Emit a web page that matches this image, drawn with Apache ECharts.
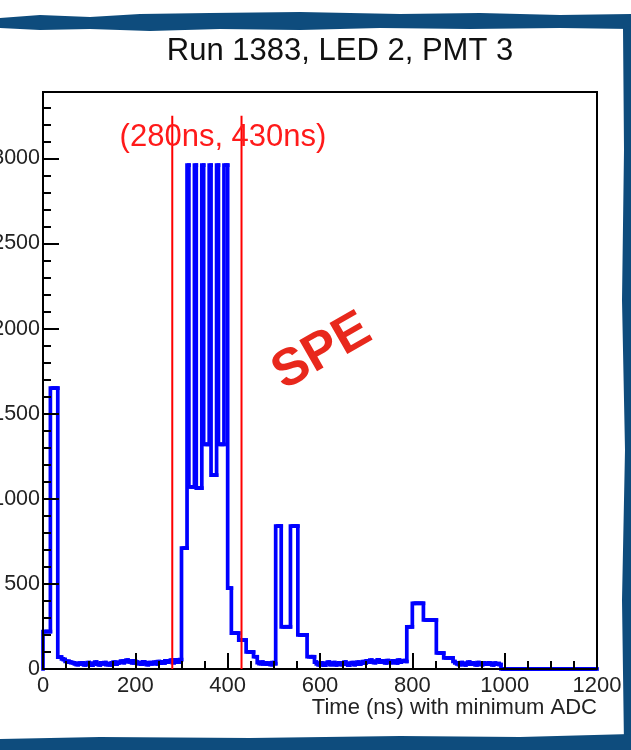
<!DOCTYPE html>
<html>
<head>
<meta charset="utf-8">
<script src="https://cdn.jsdelivr.net/npm/echarts@6/dist/echarts.min.js"></script>
<style>
  html, body { margin: 0; padding: 0; background: #ffffff; }
  #chart { width: 631px; height: 750px; }
</style>
</head>
<body>
<div id="chart"></div>
<script>
// Histogram of the time (ns) at which the minimum ADC sample occurs, 4 ns bins over 0-1200 ns
const binWidth = 4;
const counts = [
  // 0-80 ns
  220, 220, 220, 220, 1650, 1650, 1650, 1650, 70, 70, 60, 55, 45, 45, 40, 38, 36, 30, 26, 34,
  // 80-160 ns
  28, 36, 24, 30, 38, 26, 22, 34, 40, 28, 24, 36, 30, 38, 26, 32, 24, 36, 40, 28,
  // 160-240 ns
  34, 40, 46, 38, 48, 52, 42, 46, 36, 48, 40, 32, 38, 28, 42, 34, 26, 38, 30, 36,
  // 240-320 ns
  40, 30, 44, 34, 42, 36, 48, 40, 46, 52, 38, 54, 46, 40, 55, 710, 710, 710, 2960, 1070,
  // 320-400 ns
  1070, 1070, 2960, 1063, 1063, 1063, 2960, 1320, 1320, 1320, 2960, 1139, 1139, 1139, 2960, 1320, 1320, 1320, 2960, 2960,
  // 400-480 ns
  475, 475, 211, 211, 211, 211, 170, 170, 170, 170, 100, 100, 100, 100, 72, 72, 38, 32, 40, 30,
  // 480-560 ns
  36, 28, 34, 26, 38, 32, 840, 840, 840, 248, 248, 248, 248, 248, 840, 840, 840, 840, 200, 200,
  // 560-640 ns
  200, 200, 200, 72, 72, 72, 72, 40, 30, 24, 36, 28, 22, 34, 40, 26, 32, 38, 24, 30,
  // 640-720 ns
  36, 26, 30, 40, 28, 22, 34, 38, 26, 32, 40, 28, 34, 44, 36, 48, 40, 52, 44, 38,
  // 720-800 ns
  46, 54, 40, 48, 44, 36, 50, 42, 38, 48, 44, 36, 52, 40, 46, 50, 44, 248, 248, 248,
  // 800-880 ns
  386, 386, 386, 386, 386, 386, 288, 288, 288, 288, 288, 288, 288, 94, 94, 94, 94, 65, 65, 65,
  // 880-960 ns
  65, 65, 44, 36, 30, 26, 38, 30, 24, 34, 40, 28, 36, 30, 24, 38, 32, 26, 36, 30,
  // 960-1040 ns
  28, 36, 30, 24, 34, 28, 32, 26, 0, 0, 0, 0, 0, 0, 0, 0, 0, 0, 0, 0,
  // 1040-1120 ns
  0, 0, 0, 0, 0, 0, 0, 0, 0, 0, 0, 0, 0, 0, 0, 0, 0, 0, 0, 0,
  // 1120-1200 ns
  0, 0, 0, 0, 0, 0, 0, 0, 0, 0, 0, 0, 0, 0, 0, 0, 0, 0, 0, 0
];

// Axis ranges and tick spacing
const xRange = [0, 1200];
const yRange = [0, 3390];
const xMajor = 200, xMinor = 50;
const yMajor = 500, yMinor = 100;

// Selection window drawn as two vertical lines
const windowCuts = [280, 430];
const windowTop = 3250;
const windowLabel = '(280ns, 430ns)';

const titleText = 'Run 1383, LED 2, PMT 3';
const xTitle = 'Time (ns) with minimum ADC';
const noteText = 'SPE';

// One record per bin: [low edge, high edge, content, content of previous bin]
const bins = counts.map((c, i) => [
  xRange[0] + i * binWidth,
  xRange[0] + (i + 1) * binWidth,
  c,
  i > 0 ? counts[i - 1] : 0
]);

const FONT = '"Liberation Sans", Arial, Helvetica, sans-serif';
const BORDER = '#0e4c7d';
const HIST_COLOR = '#0000ff';
const HIST_WIDTH = 3.7;
const plainNumber = v => String(v);

// Each bin draws the vertical step from the previous bin's level, then its own top
function renderBin(params, api) {
  const x0 = api.value(0), x1 = api.value(1), v = api.value(2), prev = api.value(3);
  return {
    type: 'polyline',
    shape: { points: [api.coord([x0, prev]), api.coord([x0, v]), api.coord([x1, v])] },
    style: { stroke: HIST_COLOR, lineWidth: HIST_WIDTH, fill: null, lineJoin: 'miter', lineCap: 'square' },
    silent: true
  };
}

function tickAxis(extra) {
  return Object.assign({
    type: 'value',
    axisLine: { show: false },
    splitLine: { show: false },
    axisLabel: { show: false },
    z: 3
  }, extra);
}

const chart = echarts.init(document.getElementById('chart'), null, { renderer: 'canvas' });

chart.setOption({
  animation: false,
  backgroundColor: '#ffffff',
  grid: {
    left: 43, right: 34, top: 92, bottom: 81,
    containLabel: false, outerBoundsMode: 'none',
    show: true, borderColor: '#000', borderWidth: 2, backgroundColor: 'transparent'
  },
  xAxis: [
    {
      type: 'value', min: xRange[0], max: xRange[1], interval: xMajor,
      axisLine: { show: true, lineStyle: { color: '#000', width: 2 } },
      axisTick: { show: true, inside: true, length: 16, lineStyle: { color: '#000', width: 2 } },
      axisLabel: { show: true, color: '#222', fontFamily: FONT, fontSize: 22, margin: 6, formatter: plainNumber, hideOverlap: false },
      splitLine: { show: false },
      z: 3
    },
    tickAxis({
      min: xRange[0], max: xRange[1], interval: xMinor, position: 'bottom',
      axisTick: { show: true, inside: true, length: 8, lineStyle: { color: '#000', width: 2 } }
    })
  ],
  yAxis: [
    {
      type: 'value', min: yRange[0], max: yRange[1], interval: yMajor,
      axisLine: { show: true, lineStyle: { color: '#000', width: 2 } },
      axisTick: { show: true, inside: true, length: 16, lineStyle: { color: '#000', width: 2 } },
      axisLabel: { show: true, color: '#222', fontFamily: FONT, fontSize: 21.5, margin: 3, showMaxLabel: false, formatter: plainNumber, hideOverlap: false },
      splitLine: { show: false },
      z: 3
    },
    tickAxis({
      min: yRange[0], max: yRange[1], interval: yMinor, position: 'left',
      axisTick: { show: true, inside: true, length: 8, lineStyle: { color: '#000', width: 2 } }
    })
  ],
  series: [
    {
      type: 'custom',
      name: 'minimum ADC time',
      data: bins,
      encode: { x: [0, 1], y: 2 },
      renderItem: renderBin,
      clip: false,
      z: 2
    }
  ].concat(windowCuts.map(x => ({
    type: 'line',
    data: [[x, 0], [x, windowTop]],
    showSymbol: false,
    symbol: 'none',
    silent: true,
    lineStyle: { color: '#ff0000', width: 2 },
    z: 4
  }))),
  graphic: [
    // torn brush border: top, right, bottom
    { type: 'polygon', z: 100, shape: { points: [
      [0, 18], [40, 15], [90, 17], [140, 14], [210, 13], [300, 12], [400, 14], [480, 13], [560, 15], [631, 14],
      [631, 29], [560, 28], [470, 29], [380, 28], [300, 30], [220, 29], [150, 31], [90, 29], [40, 30], [0, 28]
    ] }, style: { fill: BORDER } },
    { type: 'polygon', z: 100, shape: { points: [
      [623, 28], [631, 26], [631, 745], [624, 745], [622, 600], [625, 450], [622, 300], [624, 150]
    ] }, style: { fill: BORDER } },
    { type: 'polygon', z: 100, shape: { points: [
      [0, 739], [100, 737], [250, 738], [400, 736], [520, 737], [631, 734],
      [631, 750], [0, 750]
    ] }, style: { fill: BORDER } },
    {
      type: 'text', z: 50, x: 340, y: 51,
      style: { text: titleText, font: '31px ' + FONT, fill: '#111', textAlign: 'center', textVerticalAlign: 'middle' }
    },
    {
      type: 'text', z: 50, x: 597, y: 708,
      style: { text: xTitle, font: '22px ' + FONT, fill: '#222', textAlign: 'right', textVerticalAlign: 'middle' }
    },
    {
      type: 'text', z: 50, x: 223, y: 137,
      style: { text: windowLabel, font: '31px ' + FONT, fill: '#ff1a1a', textAlign: 'center', textVerticalAlign: 'middle' }
    },
    {
      type: 'text', z: 50, x: 322, y: 352, rotation: 0.52, originX: 0, originY: 0,
      style: { text: noteText, font: 'bold 52px ' + FONT, fill: '#e8281c', textAlign: 'center', textVerticalAlign: 'middle' }
    }
  ]
});
</script>
</body>
</html>
